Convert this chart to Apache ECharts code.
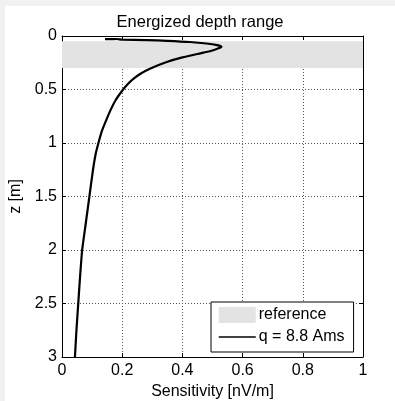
<!DOCTYPE html>
<html><head><meta charset="utf-8">
<script src="https://cdn.jsdelivr.net/npm/echarts@6/dist/echarts.min.js"></script>
<style>
html,body{margin:0;padding:0;background:#f1f1f1;width:395px;height:401px;overflow:hidden}
#c{position:absolute;left:5px;top:6px;width:390px;height:395px;background:#fff}
</style></head>
<body><div id="c"></div>
<script>
// Sensitivity curve (x = sensitivity nV/m, z = depth m)
const sensitivity = [0.143,0.165,0.180,0.200,0.280,0.350,0.425,0.480,0.515,0.530,0.520,0.500,0.470,0.400,0.348,0.292,0.262,0.237,0.218,0.203,0.178,0.160,0.145,0.131,0.121,0.112,0.103,0.091,0.079,0.067,0.060,0.054,0.048,0.043];
const depth       = [0.030,0.030,0.028,0.033,0.038,0.045,0.056,0.070,0.085,0.100,0.115,0.135,0.155,0.200,0.243,0.305,0.350,0.400,0.450,0.500,0.600,0.700,0.800,0.900,1.000,1.100,1.250,1.500,1.750,2.000,2.250,2.500,2.750,3.000];
// Reference (energized) depth range
const refRange = [0.05, 0.3];
const xTicks = [0, 0.2, 0.4, 0.6, 0.8, 1];
const yTicks = [0, 0.5, 1, 1.5, 2, 2.5, 3];
const seriesNames = ['reference', 'q = 8.8 Ams'];

const font = 'Liberation Sans, Arial, Helvetica, sans-serif';
const chart = echarts.init(document.getElementById('c'), null, {renderer: 'canvas'});
const curve = sensitivity.map((v, i) => [v, depth[i]]);
const gridLine = {show: true, lineStyle: {color: '#555', type: [1, 2], width: 1}};
const axLine = {show: true, onZero: false, lineStyle: {color: '#000', width: 1}};
const tick = {show: true, inside: true, length: 4, lineStyle: {color: '#000'}};
chart.setOption({
  animation: false,
  textStyle: {fontFamily: font, color: '#000'},
  title: {text: 'Energized depth range', left: 'center', top: 3,
    textStyle: {fontFamily: font, fontSize: 16.5, fontWeight: 'normal', color: '#000'}},
  grid: {left: 57, right: 32, top: 30, bottom: 44, outerBoundsMode: 'none', containLabel: false},
  xAxis: [
    {type: 'value', min: xTicks[0], max: xTicks[xTicks.length-1], interval: 0.2, position: 'bottom',
     axisLine: axLine, axisTick: tick, splitLine: gridLine,
     axisLabel: {fontSize: 16, color: '#000', margin: 6, fontFamily: font},
     name: 'Sensitivity [nV/m]', nameLocation: 'middle', nameGap: 23,
     nameTextStyle: {fontSize: 16, color: '#000', fontFamily: font}},
    {type: 'value', min: xTicks[0], max: xTicks[xTicks.length-1], interval: 0.2, position: 'top',
     axisLine: axLine, axisTick: tick, splitLine: {show: false}, axisLabel: {show: false}}
  ],
  yAxis: [
    {type: 'value', min: yTicks[0], max: yTicks[yTicks.length-1], interval: 0.5, inverse: true, position: 'left',
     axisLine: axLine, axisTick: tick, splitLine: gridLine,
     axisLabel: {fontSize: 16, color: '#000', margin: 5, fontFamily: font},
     name: 'z [m]', nameLocation: 'middle', nameGap: 38,
     nameTextStyle: {fontSize: 16, color: '#000', fontFamily: font}},
    {type: 'value', min: yTicks[0], max: yTicks[yTicks.length-1], interval: 0.5, inverse: true, position: 'right',
     axisLine: axLine, axisTick: tick, splitLine: {show: false}, axisLabel: {show: false}}
  ],
  legend: {
    orient: 'vertical', left: 206, top: 296,
    padding: [5, 9, 7, 7], itemGap: 6, itemWidth: 37, itemHeight: 16,
    borderColor: '#000', borderWidth: 1, borderRadius: 0, backgroundColor: '#fff',
    textStyle: {fontSize: 16, color: '#000', fontFamily: font, padding: [0, 0, 0, -2]},
    data: [
      {name: seriesNames[0], icon: 'rect', itemStyle: {color: '#e3e3e3'}},
      {name: seriesNames[1], itemStyle: {color: 'rgba(0,0,0,0)', borderWidth: 0, opacity: 0},
       lineStyle: {color: '#000', width: 1.5}}
    ]
  },
  series: [
    {name: seriesNames[0], type: 'custom', xAxisIndex: 0, yAxisIndex: 0, z: 1,
     itemStyle: {color: '#e3e3e3'},
     data: [[refRange[0], refRange[1]]],
     renderItem: function (params, api) {
       const p0 = api.coord([xTicks[0], api.value(0)]);
       const p1 = api.coord([xTicks[xTicks.length-1], api.value(1)]);
       return {type: 'rect', shape: {x: p0[0], y: p0[1], width: p1[0]-p0[0], height: p1[1]-p0[1]},
               style: {fill: '#e3e3e3'}};
     }},
    {name: seriesNames[1], type: 'line', xAxisIndex: 0, yAxisIndex: 0, z: 3,
     data: curve, symbol: 'none', showSymbol: false, smooth: 0.2,
     lineStyle: {color: '#000', width: 2.2}, itemStyle: {color: '#000'}}
  ]
});
</script></body></html>
